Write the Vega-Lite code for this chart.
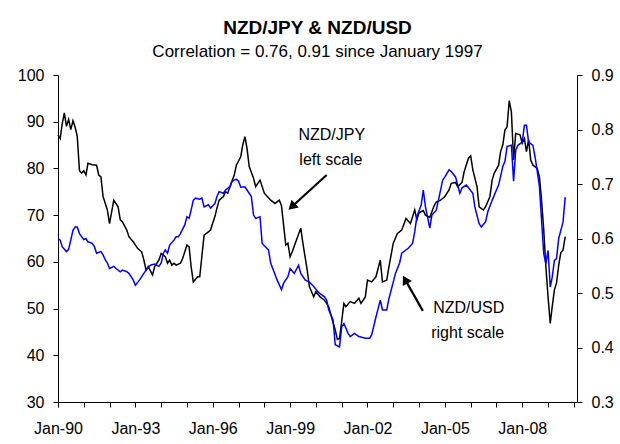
{
  "$schema": "https://vega.github.io/schema/vega-lite/v6.json",
  "width": 519,
  "height": 327,
  "autosize": {"type": "none"},
  "padding": {"left": 58, "top": 75, "right": 43, "bottom": 42},
  "background": "white",
  "config": {
    "view": {"stroke": null},
    "font": "Liberation Sans",
    "axis": {"grid": false, "domain": true, "ticks": true, "domainColor": "black", "tickColor": "black", "labelColor": "black", "labelFont": "Liberation Sans", "labelFontSize": 16, "domainWidth": 1, "tickWidth": 1, "labelOverlap": false}
  },
  "title": {
    "text": "NZD/JPY & NZD/USD",
    "subtitle": "Correlation = 0.76, 0.91 since January 1997",
    "font": "Liberation Sans",
    "subtitleFont": "Liberation Sans",
    "fontSize": 19,
    "fontWeight": "bold",
    "subtitleFontSize": 17,
    "color": "black",
    "subtitleColor": "black",
    "anchor": "middle",
    "offset": 7,
    "subtitlePadding": 6
  },
  "datasets": {
    "jpy": [
      {"d": "1990-01-01", "v": 87.2}, {"d": "1990-02-01", "v": 86.4}, {"d": "1990-03-01", "v": 89.5}, {"d": "1990-04-01", "v": 91.9},
      {"d": "1990-05-01", "v": 89.0}, {"d": "1990-06-01", "v": 90.5}, {"d": "1990-07-01", "v": 88.3}, {"d": "1990-08-01", "v": 90.2},
      {"d": "1990-09-01", "v": 88.8}, {"d": "1990-10-01", "v": 86.8}, {"d": "1990-11-01", "v": 79.5}, {"d": "1990-12-01", "v": 79.0},
      {"d": "1991-01-01", "v": 79.5}, {"d": "1991-02-01", "v": 78.6}, {"d": "1991-03-01", "v": 81.1}, {"d": "1991-05-01", "v": 80.8},
      {"d": "1991-07-01", "v": 80.7}, {"d": "1991-08-01", "v": 78.6}, {"d": "1991-09-01", "v": 78.2}, {"d": "1991-10-01", "v": 74.0},
      {"d": "1991-12-01", "v": 71.1}, {"d": "1992-01-01", "v": 68.2}, {"d": "1992-03-01", "v": 73.2}, {"d": "1992-05-01", "v": 71.8},
      {"d": "1992-06-01", "v": 69.0}, {"d": "1992-07-01", "v": 68.6}, {"d": "1992-09-01", "v": 66.8}, {"d": "1992-10-01", "v": 65.4},
      {"d": "1992-12-01", "v": 64.3}, {"d": "1993-02-01", "v": 62.9}, {"d": "1993-04-01", "v": 62.1}, {"d": "1993-05-01", "v": 60.4},
      {"d": "1993-06-01", "v": 58.2}, {"d": "1993-07-01", "v": 59.0}, {"d": "1993-09-01", "v": 57.2}, {"d": "1993-10-01", "v": 59.0},
      {"d": "1993-12-01", "v": 60.4}, {"d": "1994-01-01", "v": 61.8}, {"d": "1994-03-01", "v": 61.1}, {"d": "1994-04-01", "v": 59.7},
      {"d": "1994-05-01", "v": 60.4}, {"d": "1994-06-01", "v": 59.3}, {"d": "1994-07-01", "v": 59.7}, {"d": "1994-08-01", "v": 59.3},
      {"d": "1994-10-01", "v": 59.7}, {"d": "1994-11-01", "v": 60.7}, {"d": "1995-01-01", "v": 63.6}, {"d": "1995-02-01", "v": 63.2},
      {"d": "1995-03-01", "v": 59.0}, {"d": "1995-04-01", "v": 55.7}, {"d": "1995-06-01", "v": 56.8}, {"d": "1995-07-01", "v": 56.8},
      {"d": "1995-09-01", "v": 65.7}, {"d": "1995-11-01", "v": 66.4}, {"d": "1995-12-01", "v": 66.8}, {"d": "1996-02-01", "v": 69.7},
      {"d": "1996-03-01", "v": 71.5}, {"d": "1996-04-01", "v": 73.2}, {"d": "1996-06-01", "v": 74.0}, {"d": "1996-07-01", "v": 75.0},
      {"d": "1996-08-01", "v": 74.7}, {"d": "1996-09-01", "v": 76.1}, {"d": "1996-11-01", "v": 78.6}, {"d": "1996-12-01", "v": 80.7},
      {"d": "1997-02-01", "v": 82.5}, {"d": "1997-03-01", "v": 85.0}, {"d": "1997-04-01", "v": 86.8}, {"d": "1997-05-01", "v": 84.3},
      {"d": "1997-06-01", "v": 80.4}, {"d": "1997-08-01", "v": 77.9}, {"d": "1997-09-01", "v": 76.1}, {"d": "1997-10-01", "v": 76.8},
      {"d": "1997-11-01", "v": 77.5}, {"d": "1998-01-01", "v": 74.7}, {"d": "1998-04-01", "v": 73.2}, {"d": "1998-06-01", "v": 72.5},
      {"d": "1998-08-01", "v": 73.2}, {"d": "1998-09-01", "v": 72.0}, {"d": "1998-11-01", "v": 63.6}, {"d": "1998-12-01", "v": 64.0},
      {"d": "1999-01-01", "v": 61.1}, {"d": "1999-02-01", "v": 62.2}, {"d": "1999-04-01", "v": 64.7}, {"d": "1999-06-01", "v": 67.2},
      {"d": "1999-07-01", "v": 64.0}, {"d": "1999-09-01", "v": 58.2}, {"d": "1999-10-01", "v": 54.7}, {"d": "1999-12-01", "v": 52.5},
      {"d": "2000-01-01", "v": 53.6}, {"d": "2000-03-01", "v": 52.5}, {"d": "2000-05-01", "v": 51.8}, {"d": "2000-07-01", "v": 50.4},
      {"d": "2000-08-01", "v": 48.6}, {"d": "2000-10-01", "v": 45.4}, {"d": "2000-11-01", "v": 43.4}, {"d": "2000-12-01", "v": 43.6},
      {"d": "2001-02-01", "v": 51.1}, {"d": "2001-03-01", "v": 50.4}, {"d": "2001-05-01", "v": 51.5}, {"d": "2001-07-01", "v": 51.1},
      {"d": "2001-09-01", "v": 52.2}, {"d": "2001-10-01", "v": 51.1}, {"d": "2001-12-01", "v": 52.5}, {"d": "2002-01-01", "v": 56.1},
      {"d": "2002-03-01", "v": 55.7}, {"d": "2002-05-01", "v": 56.8}, {"d": "2002-07-01", "v": 60.4}, {"d": "2002-08-01", "v": 55.7},
      {"d": "2002-10-01", "v": 56.1}, {"d": "2002-11-01", "v": 59.0}, {"d": "2003-01-01", "v": 64.0}, {"d": "2003-03-01", "v": 66.1},
      {"d": "2003-05-01", "v": 66.8}, {"d": "2003-07-01", "v": 69.3}, {"d": "2003-09-01", "v": 68.2}, {"d": "2003-11-01", "v": 71.1},
      {"d": "2003-12-01", "v": 69.0}, {"d": "2004-01-01", "v": 70.5}, {"d": "2004-03-01", "v": 71.0}, {"d": "2004-04-01", "v": 70.0},
      {"d": "2004-06-01", "v": 69.5}, {"d": "2004-08-01", "v": 72.0}, {"d": "2004-09-01", "v": 72.8}, {"d": "2004-11-01", "v": 73.2},
      {"d": "2005-01-01", "v": 74.0}, {"d": "2005-03-01", "v": 75.4}, {"d": "2005-04-01", "v": 76.8}, {"d": "2005-06-01", "v": 77.0},
      {"d": "2005-07-01", "v": 76.1}, {"d": "2005-09-01", "v": 77.0}, {"d": "2005-10-01", "v": 79.3}, {"d": "2005-12-01", "v": 82.2},
      {"d": "2006-01-01", "v": 82.7}, {"d": "2006-02-01", "v": 79.7}, {"d": "2006-04-01", "v": 76.1}, {"d": "2006-05-01", "v": 71.8},
      {"d": "2006-07-01", "v": 71.1}, {"d": "2006-08-01", "v": 71.8}, {"d": "2006-10-01", "v": 74.0}, {"d": "2006-11-01", "v": 77.5},
      {"d": "2006-12-01", "v": 79.0}, {"d": "2007-02-01", "v": 80.7}, {"d": "2007-03-01", "v": 83.6}, {"d": "2007-04-01", "v": 85.0},
      {"d": "2007-05-01", "v": 88.2}, {"d": "2007-06-01", "v": 88.9}, {"d": "2007-07-01", "v": 94.5}, {"d": "2007-08-01", "v": 92.1},
      {"d": "2007-09-01", "v": 81.8}, {"d": "2007-10-01", "v": 87.5}, {"d": "2007-12-01", "v": 87.2}, {"d": "2008-01-01", "v": 85.4},
      {"d": "2008-02-01", "v": 86.4}, {"d": "2008-03-01", "v": 83.6}, {"d": "2008-04-01", "v": 86.1}, {"d": "2008-05-01", "v": 81.8},
      {"d": "2008-06-01", "v": 80.7}, {"d": "2008-08-01", "v": 80.0}, {"d": "2008-09-01", "v": 78.2}, {"d": "2008-10-01", "v": 73.2},
      {"d": "2008-11-01", "v": 66.8}, {"d": "2008-12-01", "v": 59.0}, {"d": "2009-01-01", "v": 52.5}, {"d": "2009-02-01", "v": 46.8},
      {"d": "2009-03-01", "v": 50.4}, {"d": "2009-04-01", "v": 54.0}, {"d": "2009-05-01", "v": 55.5}, {"d": "2009-06-01", "v": 59.3},
      {"d": "2009-07-01", "v": 62.0}, {"d": "2009-08-01", "v": 62.5}, {"d": "2009-09-01", "v": 65.4}
    ],
    "usd": [
      {"d": "1990-01-01", "v": 0.600}, {"d": "1990-02-01", "v": 0.597}, {"d": "1990-03-01", "v": 0.585}, {"d": "1990-05-01", "v": 0.576},
      {"d": "1990-06-01", "v": 0.580}, {"d": "1990-08-01", "v": 0.615}, {"d": "1990-09-01", "v": 0.621}, {"d": "1990-10-01", "v": 0.621},
      {"d": "1990-11-01", "v": 0.609}, {"d": "1991-01-01", "v": 0.598}, {"d": "1991-02-01", "v": 0.600}, {"d": "1991-03-01", "v": 0.594},
      {"d": "1991-05-01", "v": 0.591}, {"d": "1991-06-01", "v": 0.585}, {"d": "1991-07-01", "v": 0.573}, {"d": "1991-09-01", "v": 0.576},
      {"d": "1991-10-01", "v": 0.570}, {"d": "1991-11-01", "v": 0.561}, {"d": "1991-12-01", "v": 0.555}, {"d": "1992-01-01", "v": 0.545},
      {"d": "1992-03-01", "v": 0.549}, {"d": "1992-04-01", "v": 0.545}, {"d": "1992-06-01", "v": 0.539}, {"d": "1992-07-01", "v": 0.542},
      {"d": "1992-09-01", "v": 0.539}, {"d": "1992-10-01", "v": 0.536}, {"d": "1992-12-01", "v": 0.524}, {"d": "1993-01-01", "v": 0.514},
      {"d": "1993-03-01", "v": 0.524}, {"d": "1993-05-01", "v": 0.536}, {"d": "1993-06-01", "v": 0.542}, {"d": "1993-08-01", "v": 0.551},
      {"d": "1993-10-01", "v": 0.553}, {"d": "1993-12-01", "v": 0.549}, {"d": "1994-01-01", "v": 0.555}, {"d": "1994-02-01", "v": 0.573},
      {"d": "1994-03-01", "v": 0.579}, {"d": "1994-04-01", "v": 0.573}, {"d": "1994-05-01", "v": 0.588}, {"d": "1994-07-01", "v": 0.597},
      {"d": "1994-08-01", "v": 0.603}, {"d": "1994-09-01", "v": 0.603}, {"d": "1994-10-01", "v": 0.609}, {"d": "1994-12-01", "v": 0.625},
      {"d": "1995-01-01", "v": 0.640}, {"d": "1995-02-01", "v": 0.637}, {"d": "1995-03-01", "v": 0.652}, {"d": "1995-04-01", "v": 0.670},
      {"d": "1995-05-01", "v": 0.674}, {"d": "1995-07-01", "v": 0.672}, {"d": "1995-08-01", "v": 0.674}, {"d": "1995-09-01", "v": 0.658},
      {"d": "1995-11-01", "v": 0.662}, {"d": "1995-12-01", "v": 0.656}, {"d": "1996-02-01", "v": 0.664}, {"d": "1996-03-01", "v": 0.677},
      {"d": "1996-04-01", "v": 0.686}, {"d": "1996-06-01", "v": 0.683}, {"d": "1996-07-01", "v": 0.689}, {"d": "1996-09-01", "v": 0.695},
      {"d": "1996-10-01", "v": 0.705}, {"d": "1996-12-01", "v": 0.709}, {"d": "1997-01-01", "v": 0.705}, {"d": "1997-02-01", "v": 0.694},
      {"d": "1997-04-01", "v": 0.695}, {"d": "1997-05-01", "v": 0.689}, {"d": "1997-07-01", "v": 0.677}, {"d": "1997-08-01", "v": 0.643},
      {"d": "1997-09-01", "v": 0.637}, {"d": "1997-11-01", "v": 0.640}, {"d": "1997-12-01", "v": 0.591}, {"d": "1998-03-01", "v": 0.579},
      {"d": "1998-04-01", "v": 0.555}, {"d": "1998-07-01", "v": 0.524}, {"d": "1998-09-01", "v": 0.506}, {"d": "1998-10-01", "v": 0.518},
      {"d": "1998-12-01", "v": 0.530}, {"d": "1999-01-01", "v": 0.545}, {"d": "1999-03-01", "v": 0.536}, {"d": "1999-05-01", "v": 0.551},
      {"d": "1999-06-01", "v": 0.536}, {"d": "1999-08-01", "v": 0.524}, {"d": "1999-10-01", "v": 0.520}, {"d": "1999-12-01", "v": 0.512},
      {"d": "2000-02-01", "v": 0.502}, {"d": "2000-03-01", "v": 0.499}, {"d": "2000-05-01", "v": 0.493}, {"d": "2000-06-01", "v": 0.487},
      {"d": "2000-07-01", "v": 0.469}, {"d": "2000-09-01", "v": 0.450}, {"d": "2000-10-01", "v": 0.405}, {"d": "2000-12-01", "v": 0.401},
      {"d": "2001-01-01", "v": 0.438}, {"d": "2001-02-01", "v": 0.444}, {"d": "2001-04-01", "v": 0.426}, {"d": "2001-05-01", "v": 0.420},
      {"d": "2001-07-01", "v": 0.426}, {"d": "2001-09-01", "v": 0.420}, {"d": "2001-12-01", "v": 0.417}, {"d": "2002-02-01", "v": 0.417},
      {"d": "2002-03-01", "v": 0.423}, {"d": "2002-05-01", "v": 0.456}, {"d": "2002-07-01", "v": 0.487}, {"d": "2002-08-01", "v": 0.469},
      {"d": "2002-10-01", "v": 0.469}, {"d": "2002-11-01", "v": 0.490}, {"d": "2003-01-01", "v": 0.520}, {"d": "2003-02-01", "v": 0.536},
      {"d": "2003-04-01", "v": 0.555}, {"d": "2003-05-01", "v": 0.573}, {"d": "2003-08-01", "v": 0.582}, {"d": "2003-10-01", "v": 0.591},
      {"d": "2003-11-01", "v": 0.612}, {"d": "2003-12-01", "v": 0.640}, {"d": "2004-02-01", "v": 0.662}, {"d": "2004-03-01", "v": 0.689},
      {"d": "2004-04-01", "v": 0.658}, {"d": "2004-06-01", "v": 0.619}, {"d": "2004-07-01", "v": 0.643}, {"d": "2004-09-01", "v": 0.652},
      {"d": "2004-10-01", "v": 0.670}, {"d": "2004-12-01", "v": 0.707}, {"d": "2005-01-01", "v": 0.713}, {"d": "2005-03-01", "v": 0.726},
      {"d": "2005-04-01", "v": 0.723}, {"d": "2005-06-01", "v": 0.713}, {"d": "2005-08-01", "v": 0.683}, {"d": "2005-09-01", "v": 0.693},
      {"d": "2005-11-01", "v": 0.698}, {"d": "2005-12-01", "v": 0.693}, {"d": "2006-02-01", "v": 0.683}, {"d": "2006-03-01", "v": 0.658},
      {"d": "2006-05-01", "v": 0.627}, {"d": "2006-06-01", "v": 0.621}, {"d": "2006-08-01", "v": 0.631}, {"d": "2006-09-01", "v": 0.649},
      {"d": "2006-11-01", "v": 0.670}, {"d": "2007-01-01", "v": 0.689}, {"d": "2007-02-01", "v": 0.698}, {"d": "2007-04-01", "v": 0.732},
      {"d": "2007-05-01", "v": 0.741}, {"d": "2007-06-01", "v": 0.769}, {"d": "2007-08-01", "v": 0.771}, {"d": "2007-09-01", "v": 0.705},
      {"d": "2007-10-01", "v": 0.762}, {"d": "2007-11-01", "v": 0.771}, {"d": "2008-01-01", "v": 0.777}, {"d": "2008-02-01", "v": 0.808},
      {"d": "2008-03-01", "v": 0.808}, {"d": "2008-04-01", "v": 0.777}, {"d": "2008-06-01", "v": 0.771}, {"d": "2008-07-01", "v": 0.750},
      {"d": "2008-08-01", "v": 0.723}, {"d": "2008-09-01", "v": 0.695}, {"d": "2008-10-01", "v": 0.634}, {"d": "2008-11-01", "v": 0.572},
      {"d": "2008-12-01", "v": 0.554}, {"d": "2009-01-01", "v": 0.578}, {"d": "2009-02-01", "v": 0.511}, {"d": "2009-03-01", "v": 0.529},
      {"d": "2009-04-01", "v": 0.560}, {"d": "2009-05-01", "v": 0.563}, {"d": "2009-06-01", "v": 0.600}, {"d": "2009-07-01", "v": 0.615},
      {"d": "2009-08-01", "v": 0.630}, {"d": "2009-09-01", "v": 0.676}
    ],
    "labels": [
      {"d": "2000-08-13", "v": 86.1, "t": "NZD/JPY"},
      {"d": "2000-08-01", "v": 80.7, "t": "left scale"},
      {"d": "2005-12-05", "v": 49.0, "t": "NZD/USD"},
      {"d": "2005-11-20", "v": 43.6, "t": "right scale"}
    ],
    "arrows": [
      {"k": "jpy", "d": "2000-06-01", "v": 78.6, "d2": "1999-01-25", "v2": 71.8},
      {"k": "usd", "d": "2004-02-24", "v": 49.5, "d2": "2003-06-18", "v2": 56.2}
    ]
  },
  "layer": [
    {
      "data": {"name": "jpy"},
      "mark": {"type": "line", "color": "black", "strokeWidth": 1.5},
      "encoding": {
        "x": {
          "field": "d", "type": "temporal",
          "scale": {"type": "utc", "domain": [{"year": 1990, "month": 1, "date": 1, "utc": true}, {"year": 2010, "month": 2, "date": 15, "utc": true}]},
          "axis": {
            "title": null,
            "values": [
              {"year": 1990, "utc": true}, {"year": 1991, "utc": true}, {"year": 1992, "utc": true}, {"year": 1993, "utc": true},
              {"year": 1994, "utc": true}, {"year": 1995, "utc": true}, {"year": 1996, "utc": true}, {"year": 1997, "utc": true},
              {"year": 1998, "utc": true}, {"year": 1999, "utc": true}, {"year": 2000, "utc": true}, {"year": 2001, "utc": true},
              {"year": 2002, "utc": true}, {"year": 2003, "utc": true}, {"year": 2004, "utc": true}, {"year": 2005, "utc": true},
              {"year": 2006, "utc": true}, {"year": 2007, "utc": true}, {"year": 2008, "utc": true}, {"year": 2009, "utc": true},
              {"year": 2010, "utc": true}
            ],
            "labelExpr": "utcyear(datum.value) % 3 == 1 ? utcFormat(datum.value, '%b-%y') : ''",
            "tickSize": 5,
            "labelPadding": 13,
            "labelFlush": false,
            "labelOverlap": false
          }
        },
        "y": {
          "field": "v", "type": "quantitative",
          "scale": {"domain": [30, 100], "nice": false, "zero": false},
          "axis": {"title": null, "values": [30, 40, 50, 60, 70, 80, 90, 100], "tickSize": 5, "labelPadding": 9}
        }
      }
    },
    {
      "data": {"name": "labels"},
      "mark": {"type": "text", "font": "Liberation Sans", "fontSize": 16, "color": "black", "align": "center", "baseline": "alphabetic"},
      "encoding": {
        "x": {"field": "d", "type": "temporal", "axis": null},
        "y": {"field": "v", "type": "quantitative", "scale": {"domain": [30, 100], "nice": false, "zero": false}, "axis": null},
        "text": {"field": "t"}
      }
    },
    {
      "data": {"name": "arrows"},
      "mark": {"type": "rule", "color": "black", "strokeWidth": 2.2},
      "encoding": {
        "x": {"field": "d", "type": "temporal", "axis": null},
        "x2": {"field": "d2"},
        "y": {"field": "v", "type": "quantitative", "scale": {"domain": [30, 100], "nice": false, "zero": false}, "axis": null},
        "y2": {"field": "v2"}
      }
    },
    {
      "data": {"name": "arrows"},
      "transform": [{"filter": "datum.k == 'jpy'"}],
      "mark": {"type": "point", "shape": "triangle-up", "filled": true, "color": "black", "opacity": 1, "size": 110, "angle": 227},
      "encoding": {
        "x": {"field": "d2", "type": "temporal", "axis": null},
        "y": {"field": "v2", "type": "quantitative", "scale": {"domain": [30, 100], "nice": false, "zero": false}, "axis": null}
      }
    },
    {
      "data": {"name": "arrows"},
      "transform": [{"filter": "datum.k == 'usd'"}],
      "mark": {"type": "point", "shape": "triangle-up", "filled": true, "color": "black", "opacity": 1, "size": 110, "angle": 331},
      "encoding": {
        "x": {"field": "d2", "type": "temporal", "axis": null},
        "y": {"field": "v2", "type": "quantitative", "scale": {"domain": [30, 100], "nice": false, "zero": false}, "axis": null}
      }
    },
    {
      "data": {"name": "usd"},
      "mark": {"type": "line", "color": "#0000FF", "strokeWidth": 1.5},
      "encoding": {
        "x": {"field": "d", "type": "temporal", "axis": null},
        "y": {
          "field": "v", "type": "quantitative",
          "scale": {"domain": [0.3, 0.9], "nice": false, "zero": false},
          "axis": {"title": null, "orient": "right", "values": [0.3, 0.4, 0.5, 0.6, 0.7, 0.8, 0.9], "format": ".1f", "tickSize": 5, "labelPadding": 9}
        }
      }
    }
  ],
  "resolve": {"scale": {"y": "independent"}, "axis": {"x": "independent", "y": "independent"}}
}
